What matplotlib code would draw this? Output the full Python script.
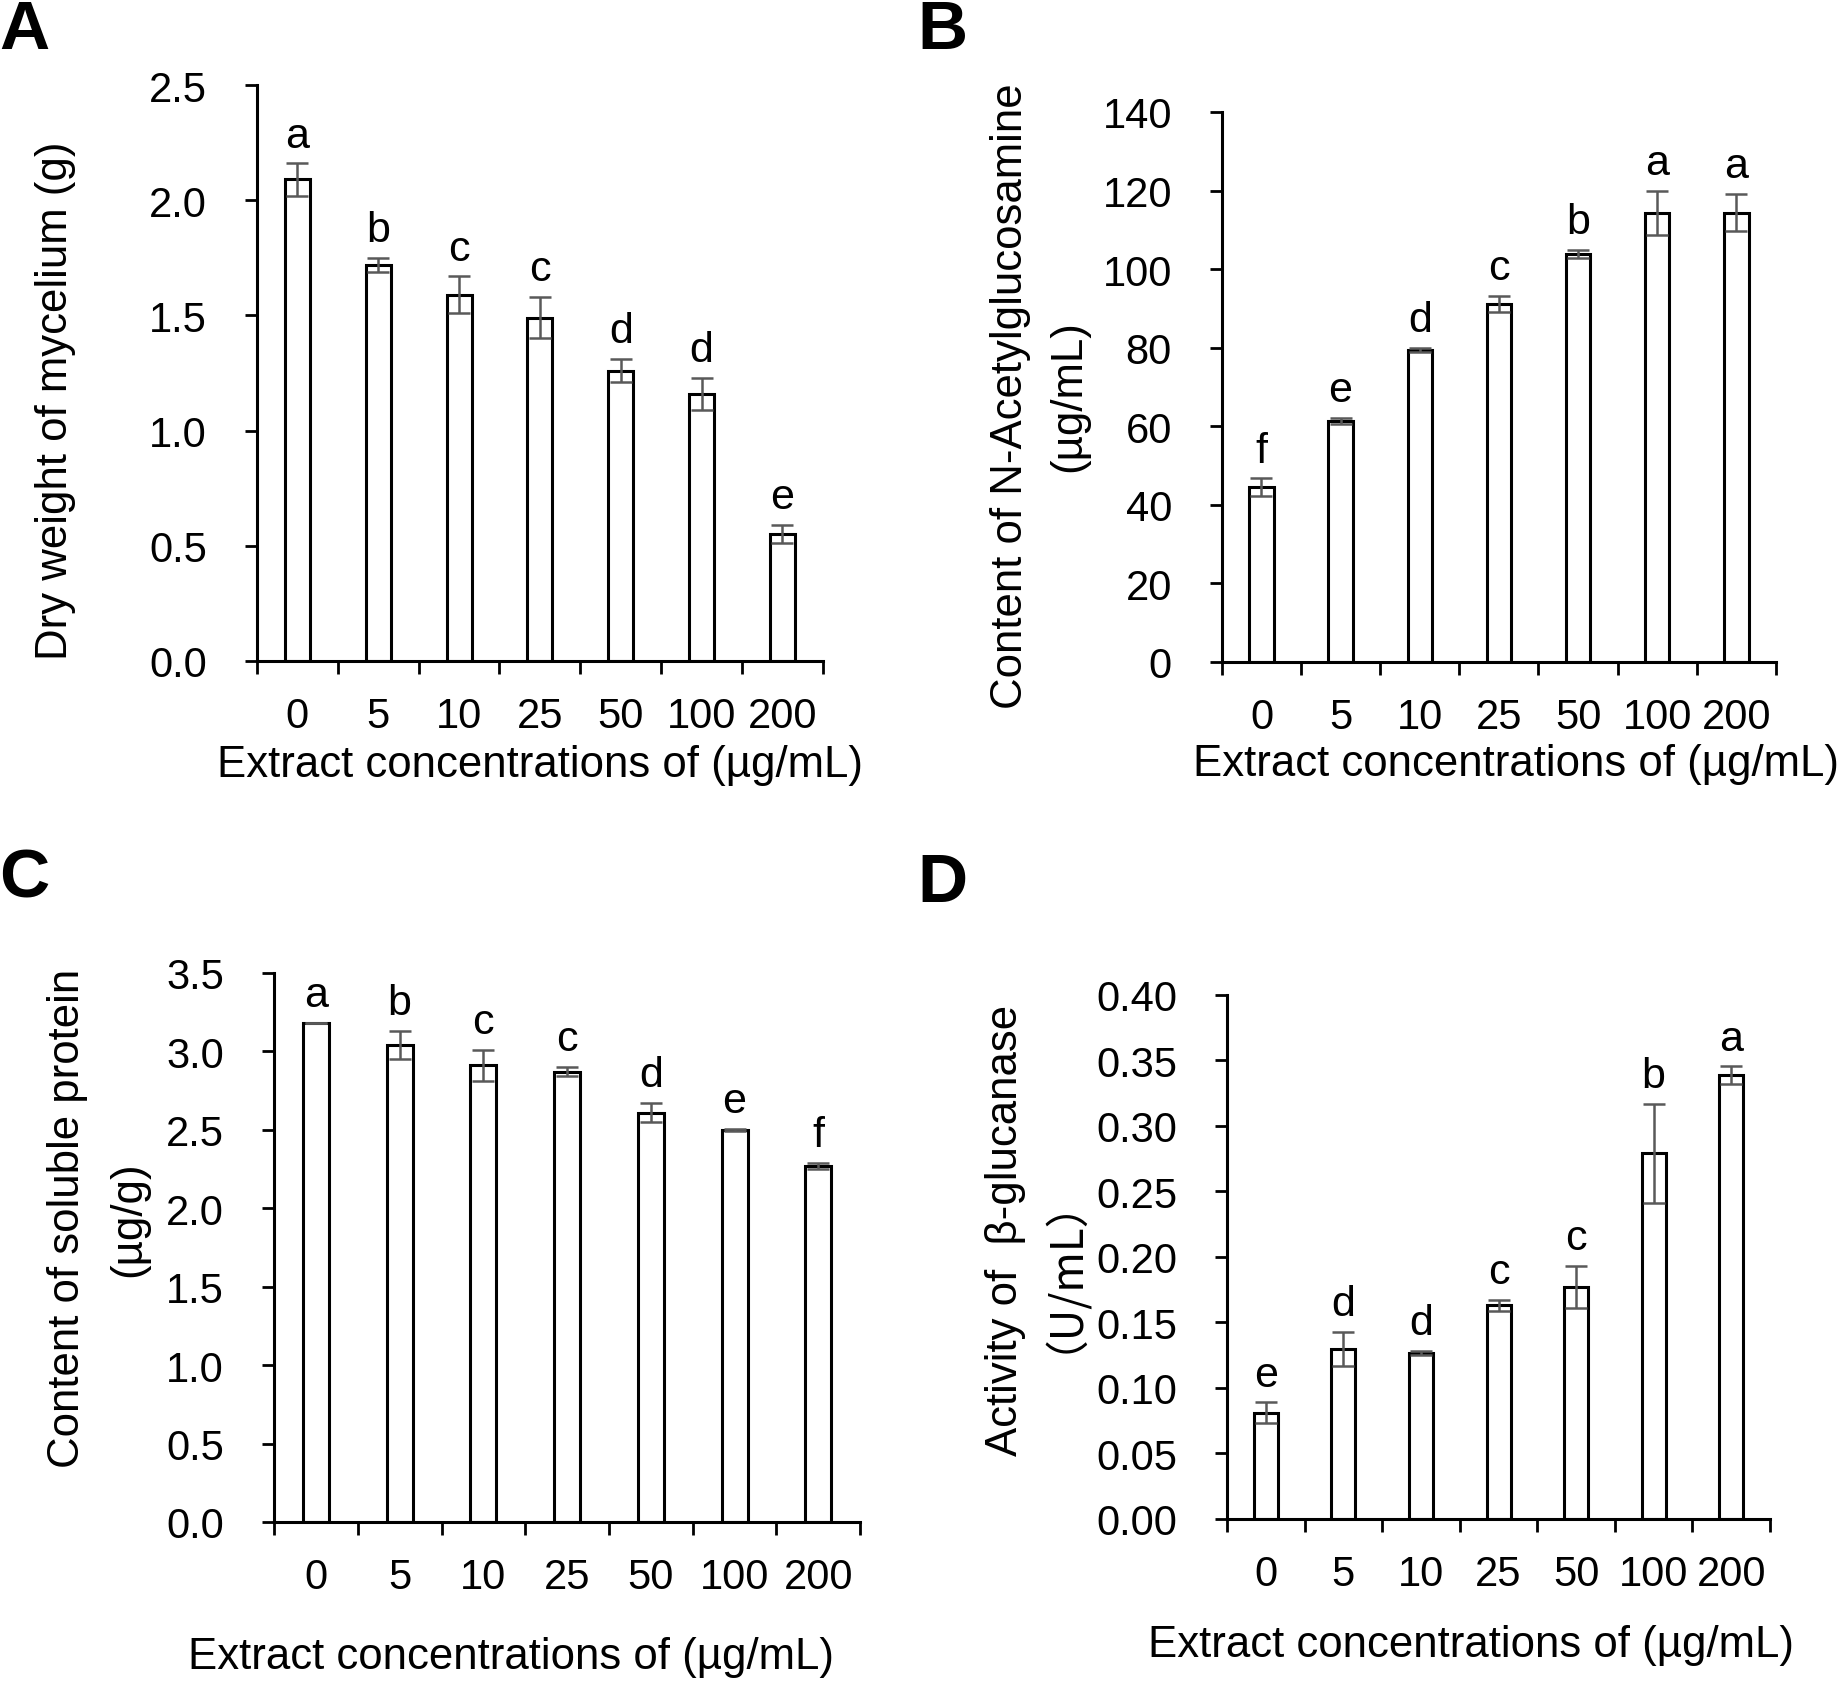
import numpy as np
import matplotlib.pyplot as plt
from matplotlib.ticker import FixedLocator, FormatStrFormatter

plt.rcParams['font.family'] = ['Liberation Sans', 'Noto Sans CJK SC', 'DejaVu Sans']
plt.rcParams['font.size'] = 30

# data
conc = ["0", "5", "10", "25", "50", "100", "200"]

dry_weight = [2.09, 1.72, 1.59, 1.49, 1.26, 1.16, 0.55]
dry_weight_err = [0.07, 0.03, 0.08, 0.09, 0.05, 0.07, 0.04]
dry_weight_sig = ["a", "b", "c", "c", "d", "d", "e"]

nag = [44.5, 61.4, 79.4, 91.2, 103.8, 114.4, 114.4]
nag_err = [2.2, 0.8, 0.6, 2.0, 1.1, 5.6, 4.7]
nag_sig = ["f", "e", "d", "c", "b", "a", "a"]

protein = [3.18, 3.04, 2.91, 2.87, 2.61, 2.50, 2.27]
protein_err = [0.0, 0.09, 0.10, 0.03, 0.06, 0.005, 0.02]
protein_sig = ["a", "b", "c", "c", "d", "e", "f"]

glucanase = [0.081, 0.130, 0.127, 0.163, 0.177, 0.279, 0.339]
glucanase_err = [0.008, 0.013, 0.0015, 0.0045, 0.016, 0.038, 0.0066]
glucanase_sig = ["e", "d", "d", "c", "c", "b", "a"]

xlab = "Extract concentrations of (\u00b5g/mL)"

fig = plt.figure(figsize=(18.43, 16.83), dpi=100)

latin = ['Liberation Sans', 'DejaVu Sans']
cjk = ['Noto Sans CJK SC', 'DejaVu Sans']

panels = [
    # rect, values, errs, sig, ylim/step, fmt, ylabel lines (text, x, y, family), xlabel pos
    ([0.1394, 0.6067, 0.3071, 0.3422], dry_weight, dry_weight_err, dry_weight_sig,
     (2.5, 0.5), "%.1f", [("Dry weight of mycelium (g)", -0.355, 0.453, latin)], (0.5, -0.18)),
    ([0.6630, 0.6061, 0.3006, 0.3268], nag, nag_err, nag_sig,
     (140, 20), "%d", [("Content of N-Acetylglucosamine", -0.382, 0.485, latin),
                       ("(\u00b5g/mL)", -0.276, 0.485, latin)], (0.531, -0.185)),
    ([0.1487, 0.0951, 0.3180, 0.3262], protein, protein_err, protein_sig,
     (3.5, 0.5), "%.1f", [("Content of soluble protein", -0.352, 0.554, latin),
                          ("(\u00b5g/g)", -0.248, 0.554, latin)], (0.404, -0.245)),
    ([0.6658, 0.0969, 0.2946, 0.3113], glucanase, glucanase_err, glucanase_sig,
     (0.40, 0.05), "%.2f", [("Activity of  \u03b2-glucanase", -0.409, 0.552, latin),
                            ("\uff08U/mL\uff09", -0.345, 0.51, cjk)], (0.45, -0.24)),
]

x = np.arange(len(conc))
for rect, vals, errs, sig, (ymax, step), fmt, ylines, xlpos in panels:
    ax = fig.add_axes(rect)
    ax.bar(x, vals, width=0.31, color="white", edgecolor="black", linewidth=2.2, zorder=2)
    ax.errorbar(x, vals, yerr=errs, fmt="none", ecolor="#595959", elinewidth=1.8,
                capsize=8, capthick=1.8, zorder=3)
    for xi, v, e, s in zip(x, vals, errs, sig):
        ax.annotate(s, (xi, v + e), xytext=(0, 12), textcoords="offset points",
                    ha="center", va="baseline", fontsize=31)
    ax.set_xlim(-0.5, len(conc) - 0.5)
    ax.set_ylim(0, ymax)
    ax.yaxis.set_major_locator(FixedLocator(np.arange(0, ymax + step / 2, step)))
    ax.yaxis.set_major_formatter(FormatStrFormatter(fmt))
    ax.xaxis.set_major_locator(FixedLocator(np.arange(-0.5, len(conc), 1.0)))
    ax.xaxis.set_major_formatter(plt.NullFormatter())
    ax.xaxis.set_minor_locator(FixedLocator(x))
    ax.set_xticklabels(conc, minor=True)
    ax.tick_params(axis="x", which="major", direction="out", length=9, width=2)
    ax.tick_params(axis="x", which="minor", length=0, pad=25, labelsize=30)
    ax.tick_params(axis="y", direction="out", length=9, width=2, pad=27, labelsize=30)
    for sp in ("top", "right"):
        ax.spines[sp].set_visible(False)
    for sp in ("left", "bottom"):
        ax.spines[sp].set_linewidth(2.2)
    for txt, lx, ly, fam in ylines:
        ax.text(lx, ly, txt, transform=ax.transAxes, rotation=90, fontsize=31.5,
                ha="center", va="center", family=fam)
    ax.set_xlabel(xlab, fontsize=31.5, va="center")
    ax.xaxis.set_label_coords(*xlpos)

for letter, px, py in [("A", 24, 31), ("B", 942, 31), ("C", 24, 879), ("D", 942, 884)]:
    fig.text(px / 1843, 1 - py / 1683, letter, fontsize=50, fontweight="bold",
             ha="center", va="center")

fig.savefig("out.png", dpi=100)
